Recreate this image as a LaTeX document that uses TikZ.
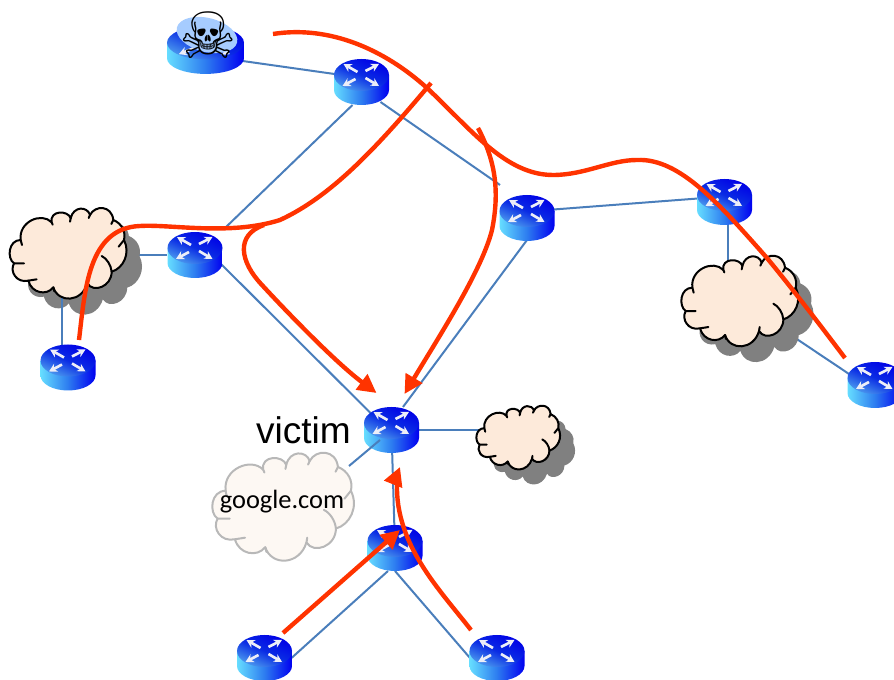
\documentclass[tikz,border=0pt]{standalone}
\usepackage{fontspec}
\setmainfont{Liberation Sans}
\newfontfamily\carlitofont{Carlito}
\newfontfamily\skullfont{DejaVu Sans}
\usetikzlibrary{arrows.meta,calc}
\definecolor{linkblue}{HTML}{4A7EBB}
\definecolor{attack}{HTML}{FF3300}
\definecolor{cloudfill}{HTML}{FDEADA}
\definecolor{googlefill}{HTML}{FDF8F3}
\definecolor{cloudedge}{HTML}{B8B8B8}
\definecolor{shadowgray}{HTML}{808080}
\definecolor{arrowwhite}{HTML}{ECEEF8}
\definecolor{sideleft}{HTML}{66DDFF}
\definecolor{sidemid}{HTML}{2D7CF0}
\definecolor{sideright}{HTML}{0000F0}
\definecolor{topdark}{HTML}{0000E6}
\definecolor{topmid}{HTML}{0A2CE4}
\definecolor{toplight}{HTML}{4C9BEE}
\definecolor{skullback}{HTML}{A6CCFF}
\tikzset{
  link/.style={draw=linkblue,line width=1.5pt},
  attackpath/.style={draw=attack,line width=3.3pt,line join=round},
  attackhead/.style={-{Triangle[length=14pt,width=14pt]}},
  routerbox/.style={inner sep=0pt,minimum width=41.25pt,minimum height=34.5pt},
  cloudbox/.style={inner sep=0pt,minimum width=#1},
  routerarrow/.style={draw=arrowwhite,line width=2pt,-{Stealth[length=6pt,width=6.5pt]}},
  lbl/.style={inner sep=0pt}
}
\newcommand{\cloudoutline}{%
  (62,150) .. controls (55,95) and (125,65) .. (155,97)
  .. controls (148,60) and (205,60) .. (212,85)
  .. controls (220,48) and (262,48) .. (270,75)
  .. controls (285,45) and (335,45) .. (340,90)
  .. controls (365,100) and (378,125) .. (372,150)
  .. controls (392,190) and (370,235) .. (335,245)
  .. controls (335,290) and (280,310) .. (262,280)
  .. controls (245,338) and (175,340) .. (160,292)
  .. controls (140,318) and (95,310) .. (85,272)
  .. controls (50,280) and (28,245) .. (42,220)
  .. controls (20,205) and (25,150) .. (62,150) -- cycle}
\newcommand{\cloudshadowdraw}[4]{%
  \begin{scope}[shift={(#1,#2)},x=#3pt,y=-#4pt]
    \fill[shadowgray] \cloudoutline;
  \end{scope}}
\newcommand{\cloudbodydraw}[6]{%
  \begin{scope}[shift={(#1,#2)},x=#3pt,y=-#4pt]
    \path[fill=#5,draw=#6,line width=1.5pt,line join=round] \cloudoutline;
    \draw[#6,line width=1.5pt,line cap=round]
      (62,150) .. controls (62,156) and (64,160) .. (66,165)
      (155,97) -- (158,104)
      (212,85) -- (210,95)
      (270,75) -- (266,84)
      (340,90) -- (334,102)
      (372,150) -- (356,170)
      (335,245) .. controls (333,225) and (320,205) .. (305,198)
      (262,280) -- (264,268)
      (160,292) -- (163,304)
      (85,272) -- (110,268)
      (42,220) -- (72,220);
  \end{scope}}
\newcommand{\routerdraw}[3]{%
  \begin{scope}[shift={(#1)},xscale=#2,yscale=#3]
    \shade[left color=sideleft,right color=sideright,middle color=sidemid]
      (-27.5,-7) -- (-27.5,8) arc[start angle=180,end angle=0,x radius=27.5,y radius=15] -- (27.5,-7) -- cycle;
    \shade[top color=topdark,bottom color=toplight,middle color=topmid,shading angle=-25]
      (0,-7) ellipse [x radius=27.5,y radius=16];
    \draw[routerarrow] (-4,-10) -- (-18,-18);
    \draw[routerarrow] (4,-11) -- (17.5,-18);
    \draw[routerarrow] (-6,-3) -- (-19,4);
    \draw[routerarrow] (4,-4) -- (17.5,4);
  \end{scope}}
\begin{document}
\begin{tikzpicture}[x=.75pt,y=-.75pt]
  \useasboundingbox (0,0) rectangle (894,680);
  % router anchors
  \node[routerbox,minimum width=57.75pt,minimum height=36pt] (r1) at (205.5,50) {};
  \foreach \n/\x/\y in {r2/361.5/82,r3/195/255,r4/68/367.5,r5/391.5/430,r6/395/548,
                        r7/264.5/658,r8/497/658,r9/527/218,r10/724.5/202,r11/875/385}
    {\node[routerbox] (\n) at (\x,\y) {};}
  % cloud anchors
  \node[cloudbox=88pt] (cl) at (68,253) {};
  \node[cloudbox=88pt] (cr) at (740,301) {};
  \node[cloudbox=63pt] (cs) at (518,438) {};
  \node[cloudbox=106pt] (cg) at (284,507) {};
  % links
  \draw[link] ($(r1)+(30,10)$) -- ($(r2)+(-20,-7)$);
  \draw[link] ($(r2)+(-9,23)$) -- ($(r3)+(30,-27)$);
  \draw[link] ($(r2)+(19,20)$) -- ($(r9)+(-27,-33)$);
  \draw[link] ($(r9)+(20,-8)$) -- ($(r10)+(-20,-4)$);
  \draw[link] ($(r3)+(20,3)$) -- ($(r5)+(-20,-16)$);
  \draw[link] ($(r9)+(0,22)$) -- ($(r5)+(11.5,-23)$);
  \draw[link] (r3.west) -- (r3.west -| cl.center);
  \draw[link] ($(r10)+(3.5,20)$) -- ($(r10)+(3.5,70)$);
  \draw[link] (cr.center) -- ($(r11)+(-20,-7)$);
  \draw[link] (r5.center) -- (r5.center -| cs.center);
  \draw[link] (r5.center) -- (r6.center);
  \draw[link] ($(r6)+(-7,23)$) -- ($(r7)+(27,0)$);
  \draw[link] ($(r6)+(0,23)$) -- ($(r8)+(-27,0)$);
  % shadows
  \cloudshadowdraw{15.5}{206}{.25}{.25}
  \cloudshadowdraw{687}{253.5}{.25}{.25}
  \cloudshadowdraw{484.5}{408}{.179}{.176}
  % link over shadow
  \draw[link] ($(r4)+(-6,-20)$) -- ($(r4)+(-6,-80)$);
  % clouds
  \cloudbodydraw{0}{190}{.25}{.25}{cloudfill}{black}
  \cloudbodydraw{671.7}{237.7}{.25}{.25}{cloudfill}{black}
  \cloudbodydraw{469.5}{393}{.179}{.176}{cloudfill}{black}
  \cloudbodydraw{200.6}{431.2}{.303}{.298}{googlefill}{cloudedge}
  % routers
  \foreach \n in {r2,r3,r4,r5,r6,r7,r8,r9,r10,r11}{\routerdraw{\n}{1}{1}}
  \routerdraw{r1}{1.4}{1.04}
  \draw[link] ($(cg)+(65,-41)$) -- ($(r5)+(-11.5,10)$);
  % skull router decoration
  \fill[skullback,rotate around={-14:(207,35)}] (207,35) ellipse [x radius=31,y radius=17];
  \node[lbl,font=\skullfont\fontsize{48pt}{48pt}\selectfont] (skull) at (208,35) {☠};
  % labels
  \node[lbl,font=\fontsize{27.8pt}{30pt}\selectfont] (victimlabel) at (303.5,430) {victim};
  \node[lbl,font=\carlitofont\fontsize{19.8pt}{22pt}\selectfont] (googlelabel) at (282,502) {google.com};
  % attack paths
  \coordinate (a0) at (273,34);
  \coordinate (a1) at (845,358);
  \draw[attackpath] (a0) .. controls (330,25) and (385,50) .. (427,88)
     .. controls (470,128) and (505,175) .. (553,175)
     .. controls (585,175) and (610,160) .. (637,160)
     .. controls (680,158) and (720,205) .. (767,258)
     .. controls (795,292) and (820,325) .. (a1);
  \coordinate (b0) at (79,340);
  \coordinate (b1) at (431,83);
  \draw[attackpath] (b0) .. controls (85,290) and (88,228) .. (140,226)
     .. controls (170,224) and (230,236) .. (280,220)
     .. controls (330,197) and (375,150) .. (b1);
  \coordinate (c0) at (264,225);
  \draw[attackpath,attackhead] (c0) .. controls (235,235) and (240,262) .. (262,285)
     .. controls (285,310) and (335,362) .. ($(r5)+(-15,-37)$);
  \coordinate (d0) at (478,128);
  \draw[attackpath,attackhead] (d0) .. controls (495,160) and (500,190) .. (492,230)
     .. controls (482,270) and (440,335) .. ($(r5)+(13,-36)$);
  \coordinate (e0) at (283,633);
  \draw[attackpath,attackhead] (e0) -- ($(r6)+(5,-18)$);
  \coordinate (f0) at (471,630);
  \draw[attackpath,attackhead] (f0) .. controls (440,590) and (395,545) .. (397,483)
     .. controls (397,477) and (398,472) .. ($(r5)+(8.5,37)$);
\end{tikzpicture}
\end{document}
